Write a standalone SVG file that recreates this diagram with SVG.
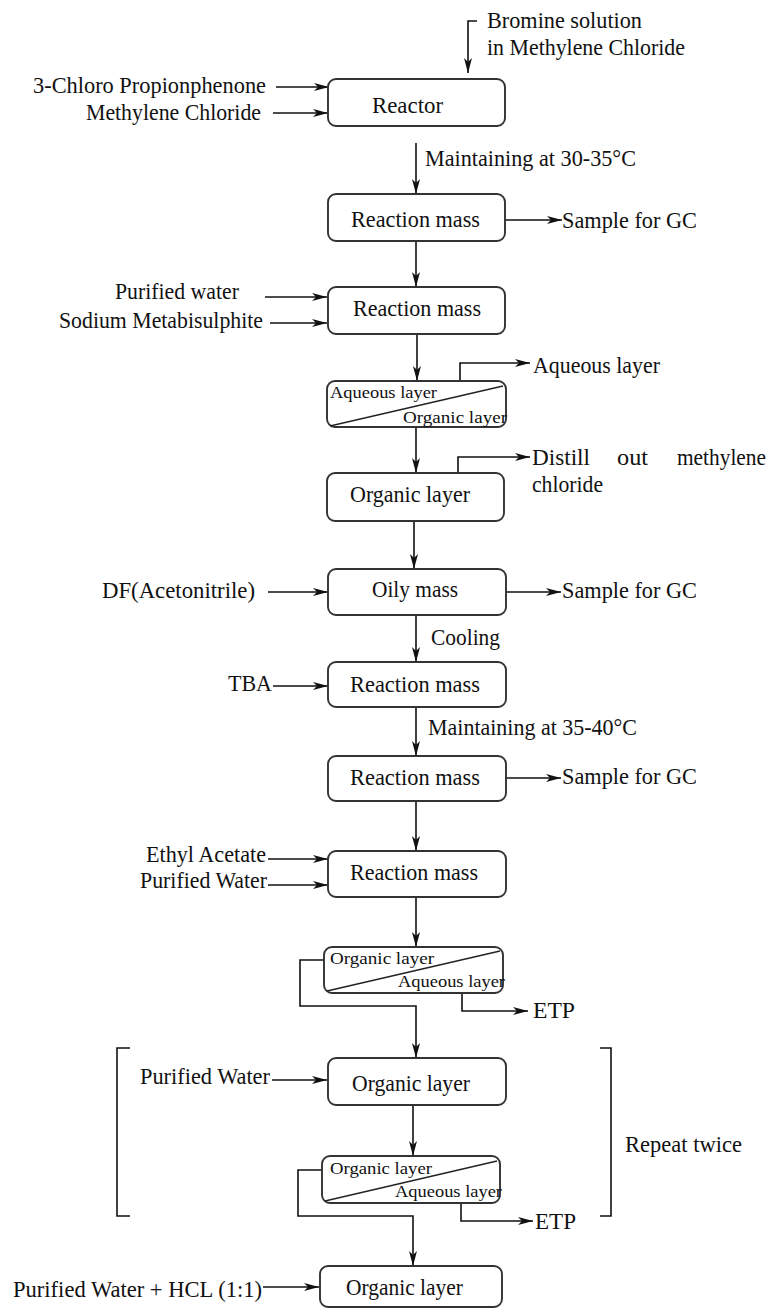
<svg xmlns="http://www.w3.org/2000/svg" width="771" height="1309" viewBox="0 0 771 1309" font-family="'Liberation Serif', 'Times New Roman', serif">
<style>
text{font-family:'Liberation Serif','Times New Roman',serif;font-size:23px;fill:#111}
.s{font-size:17px}
.box{fill:#fff;stroke:#333;stroke-width:1.9}
.ln{fill:none;stroke:#111;stroke-width:1.6}
.ar{fill:none;stroke:#111;stroke-width:1.6;marker-end:url(#ah)}
.dg{stroke:#222;stroke-width:1.3}
</style>
<defs>
<marker id="ah" markerUnits="userSpaceOnUse" markerWidth="16" markerHeight="10" refX="15" refY="4" orient="auto">
<path d="M0,0 L15,4 L0,8 L4,4 z" fill="#111"/>
</marker>
</defs>
<rect width="771" height="1309" fill="#fff"/>

<g id="connectors">
<polyline class="ar" points="477,21 468,21 468,73"/>
<line class="ar" x1="276" y1="87" x2="329" y2="87"/>
<line class="ar" x1="273" y1="113" x2="328" y2="113"/>
<line class="ar" x1="416" y1="143" x2="416" y2="194"/>
<line class="ar" x1="505" y1="220" x2="562" y2="220"/>
<line class="ar" x1="416" y1="241" x2="416" y2="287"/>
<line class="ar" x1="265" y1="297" x2="327" y2="297"/>
<line class="ar" x1="270" y1="323" x2="327" y2="323"/>
<line class="ar" x1="417" y1="334" x2="417" y2="381"/>
<polyline class="ar" points="460,381 460,363 530,363"/>
<line class="ar" x1="416" y1="427" x2="416" y2="473"/>
<polyline class="ar" points="458,473 458,457 530,457"/>
<line class="ar" x1="414" y1="521" x2="414" y2="569"/>
<line class="ar" x1="268" y1="592" x2="328" y2="592"/>
<line class="ar" x1="506" y1="592" x2="561" y2="592"/>
<line class="ar" x1="416" y1="615" x2="416" y2="662"/>
<line class="ar" x1="273" y1="686" x2="328" y2="686"/>
<line class="ar" x1="416" y1="707" x2="416" y2="756"/>
<line class="ar" x1="506" y1="778" x2="561" y2="778"/>
<line class="ar" x1="416" y1="801" x2="416" y2="851"/>
<line class="ar" x1="268" y1="859" x2="328" y2="859"/>
<line class="ar" x1="268" y1="885" x2="328" y2="885"/>
<line class="ar" x1="416" y1="897" x2="416" y2="947"/>
<polyline class="ar" points="324,960 300,960 300,1006 416,1006 416,1058"/>
<polyline class="ar" points="462,993 462,1011 528,1011"/>
<line class="ar" x1="272" y1="1080" x2="327" y2="1080"/>
<line class="ar" x1="413" y1="1105" x2="413" y2="1156"/>
<polyline class="ar" points="322,1170 298,1170 298,1216 413,1216 413,1266"/>
<polyline class="ar" points="461,1203 461,1221 533,1221"/>
<line class="ar" x1="263" y1="1287" x2="319" y2="1287"/>
<path class="ln" d="M130,1048 H117 V1216 H130"/>
<path class="ln" d="M600,1048 H611 V1216 H600"/>
</g>

<g id="labels" font-family="'Liberation Serif', serif">
<text x="487" y="28" textLength="155" lengthAdjust="spacingAndGlyphs">Bromine solution</text>
<text x="487" y="55" textLength="198" lengthAdjust="spacingAndGlyphs">in Methylene Chloride</text>
<text x="33" y="93" textLength="233" lengthAdjust="spacingAndGlyphs">3-Chloro Propionphenone</text>
<text x="86" y="120" textLength="175" lengthAdjust="spacingAndGlyphs">Methylene Chloride</text>
<text x="425" y="166" textLength="211" lengthAdjust="spacingAndGlyphs">Maintaining at 30-35°C</text>
<text x="562" y="228" textLength="135" lengthAdjust="spacingAndGlyphs">Sample for GC</text>
<text x="115" y="299" textLength="124" lengthAdjust="spacingAndGlyphs">Purified water</text>
<text x="59" y="328" textLength="204" lengthAdjust="spacingAndGlyphs">Sodium Metabisulphite</text>
<text x="533" y="373" textLength="127" lengthAdjust="spacingAndGlyphs">Aqueous layer</text>
<text x="532" y="465" textLength="58" lengthAdjust="spacingAndGlyphs">Distill</text>
<text x="617" y="465" textLength="31" lengthAdjust="spacingAndGlyphs">out</text>
<text x="677" y="465" textLength="89" lengthAdjust="spacingAndGlyphs">methylene</text>
<text x="532" y="492" textLength="71" lengthAdjust="spacingAndGlyphs">chloride</text>
<text x="102" y="598" textLength="153" lengthAdjust="spacingAndGlyphs">DF(Acetonitrile)</text>
<text x="562" y="598" textLength="135" lengthAdjust="spacingAndGlyphs">Sample for GC</text>
<text x="431" y="645" textLength="69" lengthAdjust="spacingAndGlyphs">Cooling</text>
<text x="228" y="691" textLength="44" lengthAdjust="spacingAndGlyphs">TBA</text>
<text x="428" y="735" textLength="209" lengthAdjust="spacingAndGlyphs">Maintaining at 35-40°C</text>
<text x="562" y="784" textLength="135" lengthAdjust="spacingAndGlyphs">Sample for GC</text>
<text x="146" y="862" textLength="120" lengthAdjust="spacingAndGlyphs">Ethyl Acetate</text>
<text x="140" y="888" textLength="127" lengthAdjust="spacingAndGlyphs">Purified Water</text>
<text x="533" y="1018" textLength="42" lengthAdjust="spacingAndGlyphs">ETP</text>
<text x="140" y="1084" textLength="130" lengthAdjust="spacingAndGlyphs">Purified Water</text>
<text x="625" y="1152" textLength="117" lengthAdjust="spacingAndGlyphs">Repeat twice</text>
<text x="535" y="1229" textLength="41" lengthAdjust="spacingAndGlyphs">ETP</text>
<text x="13" y="1297" textLength="249" lengthAdjust="spacingAndGlyphs">Purified Water + HCL (1:1)</text>
</g>

<g id="n1"><rect class="box" x="328" y="79" width="177" height="47" rx="8"/><text x="372" y="113" textLength="71" lengthAdjust="spacingAndGlyphs">Reactor</text></g>
<g id="n2"><rect class="box" x="328" y="194" width="177" height="47" rx="8"/><text x="351" y="227" textLength="129" lengthAdjust="spacingAndGlyphs">Reaction mass</text></g>
<g id="n3"><rect class="box" x="328" y="287" width="177" height="47" rx="8"/><text x="353" y="316" textLength="128" lengthAdjust="spacingAndGlyphs">Reaction mass</text></g>
<g id="n4"><rect class="box" x="327" y="381" width="179" height="46" rx="8"/><line class="dg" x1="330" y1="426" x2="503" y2="386"/><text x="330" y="398" class="s" textLength="107" lengthAdjust="spacingAndGlyphs">Aqueous layer</text><text x="403" y="423" class="s" textLength="104" lengthAdjust="spacingAndGlyphs">Organic layer</text></g>
<g id="n5"><rect class="box" x="327" y="473" width="177" height="48" rx="8"/><text x="350" y="502" textLength="120" lengthAdjust="spacingAndGlyphs">Organic layer</text></g>
<g id="n6"><rect class="box" x="328" y="569" width="178" height="46" rx="8"/><text x="372" y="597" textLength="86" lengthAdjust="spacingAndGlyphs">Oily mass</text></g>
<g id="n7"><rect class="box" x="328" y="662" width="178" height="45" rx="8"/><text x="350" y="692" textLength="130" lengthAdjust="spacingAndGlyphs">Reaction mass</text></g>
<g id="n8"><rect class="box" x="328" y="756" width="178" height="45" rx="8"/><text x="350" y="785" textLength="130" lengthAdjust="spacingAndGlyphs">Reaction mass</text></g>
<g id="n9"><rect class="box" x="328" y="851" width="178" height="46" rx="8"/><text x="350" y="880" textLength="128" lengthAdjust="spacingAndGlyphs">Reaction mass</text></g>
<g id="n10"><rect class="box" x="324" y="947" width="179" height="46" rx="8"/><line class="dg" x1="327" y1="991" x2="500" y2="951"/><text x="330" y="964" class="s" textLength="104" lengthAdjust="spacingAndGlyphs">Organic layer</text><text x="398" y="987" class="s" textLength="107" lengthAdjust="spacingAndGlyphs">Aqueous layer</text></g>
<g id="n11"><rect class="box" x="328" y="1058" width="178" height="47" rx="8"/><text x="352" y="1091" textLength="118" lengthAdjust="spacingAndGlyphs">Organic layer</text></g>
<g id="n12"><rect class="box" x="322" y="1156" width="178" height="47" rx="8"/><line class="dg" x1="325" y1="1201" x2="497" y2="1161"/><text x="330" y="1174" class="s" textLength="102" lengthAdjust="spacingAndGlyphs">Organic layer</text><text x="395" y="1197" class="s" textLength="107" lengthAdjust="spacingAndGlyphs">Aqueous layer</text></g>
<g id="n13"><rect class="box" x="320" y="1266" width="182" height="41" rx="8"/><text x="346" y="1295" textLength="117" lengthAdjust="spacingAndGlyphs">Organic layer</text></g>
</svg>
